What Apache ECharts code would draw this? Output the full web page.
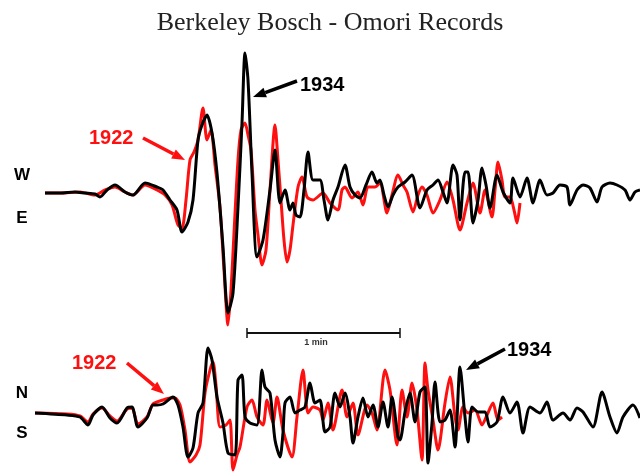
<!DOCTYPE html>
<html>
<head>
<meta charset="utf-8">
<script src="https://cdn.jsdelivr.net/npm/echarts@6/dist/echarts.min.js"></script>
<style>html,body{margin:0;padding:0;background:#fff}#chart{width:640px;height:473px}</style>
</head>
<body>
<div id="chart"></div>
<script>
// Time (arbitrary trace units) and amplitude (trace units, positive up)
const weTime1934 = [45,60,75,85,95,100,107,115,125,133,145,157,163,170,177,182,188,193,198,202,207,212,217,223,228,233,238,242,245,248,252,257,263,270,275,280,285,290,293,296,300,304,308,313,320,324,328,333,338,345,350,355,360,366,372,377,380,384,388,393,398,405,412,420,427,433,438,443,447,453,457,460,465,468,473,478,482,486,490,497,503,510,513,520,527,533,540,547,553,560,567,570,577,583,590,597,602,610,617,625,630,635,640];
const weAmp1934 = [0,0,1,0,-1,-4,3,8,1,-2,10,6,3,-7,-17,-39,-29,-7,53,68,78,60,20,-54,-120,-100,-14,70,140,113,20,-64,-47,3,43,-10,3,-17,-10,-22,-24,3,41,13,13,-7,-27,-7,6,28,6,-2,-5,8,21,10,13,-2,-14,-2,6,11,18,-15,3,8,13,1,-10,28,18,-27,21,21,-30,-7,25,8,-15,18,1,-10,15,-4,15,-10,13,-2,0,8,6,-12,3,8,5,-9,6,10,8,3,-7,1,3];

const weTime1922 = [45,60,80,95,105,115,125,133,145,157,165,172,178,182,186,190,194,198,203,207,211,215,220,224,228,231,234,238,241,245,248,251,255,258,262,266,270,275,278,281,284,287,290,293,298,302,307,313,323,330,338,342,345,352,358,363,368,375,380,387,392,398,403,407,413,418,422,427,433,440,447,453,460,467,473,480,485,492,495,498,502,505,510,514,517,520];
const weAmp1922 = [0,0,1,-2,3,6,1,-2,8,3,-2,-12,-32,-35,-7,33,41,53,85,53,63,28,-14,-77,-132,-97,-40,33,63,70,58,43,-17,-42,-72,-57,3,68,33,-7,-47,-69,-57,-32,6,16,-4,-7,0,-10,-17,3,6,-5,1,-12,6,6,10,-20,-2,18,8,1,-19,-2,6,-2,-20,-7,11,-7,-37,-10,10,-20,3,-24,3,31,13,-4,-4,-17,-30,-10];

const nsTime1934 = [35,67,80,88,93,102,110,117,127,132,138,147,153,157,163,173,178,183,188,193,198,203,208,212,217,223,228,235,238,242,245,250,257,262,265,270,275,280,283,285,290,295,300,305,310,315,320,325,330,335,340,345,350,353,358,363,368,373,378,383,388,392,398,400,405,410,415,420,425,428,432,435,440,445,450,455,460,465,468,472,478,485,490,497,503,510,517,523,530,540,547,553,563,570,577,583,593,602,610,617,623,633,640];
const nsAmp1934 = [0,-2,-4,-12,-2,6,-5,-10,5,6,-14,-5,8,8,9,16,8,-14,-44,-35,0,10,65,53,16,-10,-40,-42,33,38,-4,-10,-12,43,26,20,-27,-44,-20,10,16,0,3,6,30,10,13,-19,-14,20,6,20,-4,-30,-4,15,-4,8,-14,11,-14,16,-24,-27,1,20,-9,21,26,-50,-10,31,-9,-7,3,-34,46,-4,-29,6,1,1,-14,-9,16,0,11,-20,6,0,11,-7,0,-7,5,1,-14,21,-4,-20,-4,8,-5];

const nsTime1922 = [35,67,80,88,93,102,110,117,127,132,138,147,153,163,170,175,180,185,190,196,200,205,210,213,216,220,226,230,233,237,240,247,252,257,263,267,273,277,283,292,297,303,308,313,320,323,328,333,342,347,353,358,367,372,377,385,390,397,402,407,412,417,422,425,428,433,438,445,450,455,458,463,468,475,482,487,493,498,502];
const nsAmp1922 = [0,-1,-3,-9,-1,5,-3,-8,4,5,-11,-4,9,13,15,15,8,-17,-49,-42,-32,20,43,51,28,-14,-12,-7,-57,-42,-34,6,13,-4,-12,13,-10,16,-17,-44,-4,43,0,6,3,-7,10,-17,23,-4,10,-22,8,0,-17,43,23,-32,23,-4,30,3,-47,50,23,-7,-37,10,36,-4,-17,6,0,3,-12,-2,10,-7,-4];

const seriesNames = ['1922', '1934'];
const componentLabels = [['W', 'E'], ['N', 'S']];
const scaleLabel = '1 min';
const titleText = 'Berkeley Bosch - Omori Records';

function pairs(t, a) { return t.map((v, i) => [v, a[i]]); }

const RED = '#ff1010', BLACK = '#000000';

function arrow(x1, y1, x2, y2, color) {
  const dx = x2 - x1, dy = y2 - y1, L = Math.hypot(dx, dy);
  const ux = dx / L, uy = dy / L, hl = 13, hw = 5;
  const bx = x2 - ux * hl, by = y2 - uy * hl;
  return [
    { type: 'line', shape: { x1: x1, y1: y1, x2: bx, y2: by }, style: { stroke: color, lineWidth: 3.5 }, z: 20 },
    { type: 'polygon', shape: { points: [[x2, y2], [bx - uy * hw, by + ux * hw], [bx + uy * hw, by - ux * hw]] }, style: { fill: color }, z: 20 }
  ];
}
function label(text, x, y, color, size, align) {
  return { type: 'text', x: x, y: y, z: 20, style: { text: text, fill: color, font: 'bold ' + size + 'px "Liberation Sans", Arial, sans-serif', textAlign: align || 'left', textVerticalAlign: 'middle' } };
}

const chart = echarts.init(document.getElementById('chart'), null, { renderer: 'canvas' });
const hiddenAxis = { show: false, splitLine: { show: false } };
chart.setOption({
  animation: false,
  backgroundColor: '#fff',
  grid: [
    { left: 0, right: 0, top: 40, height: 290 },
    { left: 0, right: 0, top: 330, height: 143 }
  ],
  xAxis: [
    Object.assign({ type: 'value', gridIndex: 0, min: 0, max: 640 }, hiddenAxis),
    Object.assign({ type: 'value', gridIndex: 1, min: 0, max: 640 }, hiddenAxis)
  ],
  yAxis: [
    Object.assign({ type: 'value', gridIndex: 0, min: -137, max: 153 }, hiddenAxis),
    Object.assign({ type: 'value', gridIndex: 1, min: -60, max: 83 }, hiddenAxis)
  ],
  series: [
    { name: seriesNames[0], type: 'line', xAxisIndex: 0, yAxisIndex: 0, data: pairs(weTime1922, weAmp1922), showSymbol: false, smooth: 0.25, lineStyle: { color: RED, width: 3 }, z: 2 },
    { name: seriesNames[1], type: 'line', xAxisIndex: 0, yAxisIndex: 0, data: pairs(weTime1934, weAmp1934), showSymbol: false, smooth: 0.25, lineStyle: { color: BLACK, width: 3 }, z: 3 },
    { name: seriesNames[0], type: 'line', xAxisIndex: 1, yAxisIndex: 1, data: pairs(nsTime1922, nsAmp1922), showSymbol: false, smooth: 0.25, lineStyle: { color: RED, width: 3 }, z: 2 },
    { name: seriesNames[1], type: 'line', xAxisIndex: 1, yAxisIndex: 1, data: pairs(nsTime1934, nsAmp1934), showSymbol: false, smooth: 0.25, lineStyle: { color: BLACK, width: 3 }, z: 3 }
  ],
  graphic: [].concat(
    [{ type: 'text', x: 330, y: 23, style: { text: titleText, fill: '#222', font: '26px "Liberation Serif", "Times New Roman", serif', textAlign: 'center', textVerticalAlign: 'middle' } }],
    [label(componentLabels[0][0], 22, 175, BLACK, 17, 'center'), label(componentLabels[0][1], 22, 218, BLACK, 17, 'center'),
     label(componentLabels[1][0], 22, 393, BLACK, 17, 'center'), label(componentLabels[1][1], 22, 433, BLACK, 17, 'center')],
    [label(seriesNames[1], 300, 85, BLACK, 20), label(seriesNames[0], 89, 138, RED, 20),
     label(seriesNames[0], 72, 363, RED, 20), label(seriesNames[1], 507, 350, BLACK, 20)],
    arrow(297, 81, 253, 97, BLACK),
    arrow(143, 138, 185, 160, RED),
    arrow(127, 363, 164, 394, RED),
    arrow(505, 349, 466, 370, BLACK),
    [{ type: 'line', shape: { x1: 247, y1: 333, x2: 400, y2: 333 }, style: { stroke: '#111', lineWidth: 2 } },
     { type: 'line', shape: { x1: 247, y1: 328, x2: 247, y2: 338 }, style: { stroke: '#111', lineWidth: 1.5 } },
     { type: 'line', shape: { x1: 400, y1: 328, x2: 400, y2: 338 }, style: { stroke: '#111', lineWidth: 1.5 } },
     label(scaleLabel, 316, 343, '#333', 9, 'center')]
  )
});
</script>
</body>
</html>
